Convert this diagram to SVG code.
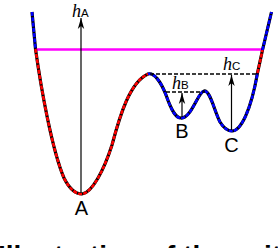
<svg xmlns="http://www.w3.org/2000/svg" width="278" height="248" viewBox="0 0 278 248">
<style>
.base{fill:none;stroke:#000;stroke-width:3.2;stroke-linejoin:round}
.red{fill:none;stroke:#ff0000;stroke-width:2.6;stroke-dasharray:4 1.3}
.blue{fill:none;stroke:#0000ff;stroke-width:2.6;stroke-dasharray:4 1.3}
.dash{fill:none;stroke:#000;stroke-width:1.6;stroke-dasharray:4 2}
.arr{fill:none;stroke:#000;stroke-width:1.2}
.lbl{font-family:"Liberation Sans",Arial,sans-serif;font-size:20px;fill:#000}
.h{font-family:"Liberation Serif","Times New Roman",serif;font-style:italic;font-size:18px;fill:#000}
.sub{font-family:"Liberation Sans",Arial,sans-serif;font-style:normal;font-size:11.5px}
.cap{font-family:"Liberation Sans",Arial,sans-serif;font-weight:bold;font-size:28px;fill:#000}
</style>
<defs>
<marker id="ah" markerUnits="userSpaceOnUse" markerWidth="14" markerHeight="10" viewBox="-12 -5 14 10" refX="0" refY="0" orient="auto">
<path d="M0,0 L-11,-3.2 L-8,0 L-11,3.2 z" fill="#000"/>
</marker>
</defs>
<g id="level">
<line x1="35.5" y1="49.5" x2="262.5" y2="49.5" stroke="#ff00ff" stroke-width="2.5"/>
</g>
<g id="curve">
<path class="base" d="M32,12 L35.5,49 C41,88 52,150 64,178 C70,190 76,194 82,194 C92,193 104,170 112,145 C120,115 130,82 148,74 C154,72 161,82 166,95 C172,112 176,118 181,118 C191,119 198,92 204,91 C210,90 214,110 220,122 C225,130 229,131 232,131 C241,131 251,110 257.5,73 L262.5,50 L271.5,12"/>
<path class="blue" d="M32,12 L35.5,49"/>
<path class="red" d="M35.5,49 C41,88 52,150 64,178 C70,190 76,194 82,194 C92,193 104,170 112,145 C120,115 130,82 148,74"/>
<path class="blue" d="M148,74 C154,72 161,82 166,95 C172,112 176,118 181,118 C191,119 198,92 204,91 C210,90 214,110 220,122 C225,130 229,131 232,131 C241,131 251,110 257.5,73"/>
<path class="red" d="M257.5,73 L262.5,50"/>
<path class="blue" d="M262.5,50 L271.5,12"/>
</g>
<g id="connectors">
<line class="dash" x1="150" y1="74" x2="258" y2="74"/>
<line class="dash" x1="166" y1="92" x2="205" y2="92"/>
<line class="arr" x1="81" y1="193" x2="81" y2="18" marker-end="url(#ah)"/>
<line class="arr" x1="182" y1="117" x2="182" y2="93" marker-end="url(#ah)"/>
<line class="arr" x1="231.5" y1="130" x2="231.5" y2="75" marker-end="url(#ah)"/>
</g>
<g id="A"><text class="lbl" x="81.5" y="215" text-anchor="middle">A</text></g>
<g id="B"><text class="lbl" x="182" y="138" text-anchor="middle">B</text></g>
<g id="C"><text class="lbl" x="231.5" y="152" text-anchor="middle">C</text></g>
<g id="hA"><text class="h" x="72" y="16.5">h<tspan class="sub">A</tspan></text></g>
<g id="hB"><text class="h" x="172" y="89">h<tspan class="sub">B</tspan></text></g>
<g id="hC"><text class="h" x="223" y="70">h<tspan class="sub">C</tspan></text></g>
<text class="cap" x="-2" y="265">Illustration of the exit</text>
</svg>
